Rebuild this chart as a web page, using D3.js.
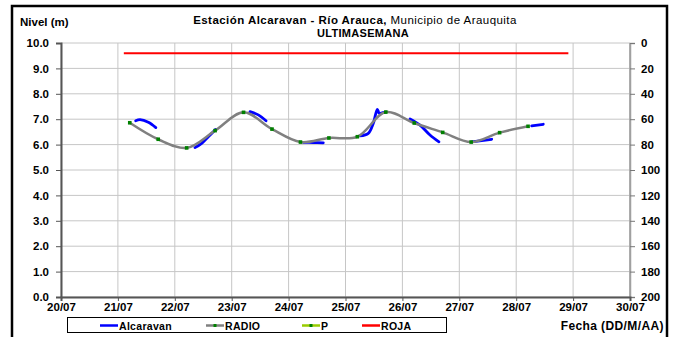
<!DOCTYPE html>
<html><head><meta charset="utf-8">
<script src="https://cdn.jsdelivr.net/npm/d3@7"></script>
<style>body{margin:0;background:#fff}svg{display:block;font-family:"Liberation Sans",Arial,sans-serif}</style>
</head><body>
<svg id="c" width="674" height="337"></svg>
<script>
// ---- data ----
const xTickLabels = ["20/07","21/07","22/07","23/07","24/07","25/07","26/07","27/07","28/07","29/07","30/07"];
const leftTicks = [0,1,2,3,4,5,6,7,8,9,10];
const rightTicks = [0,20,40,60,80,100,120,140,160,180,200];
const radioTimes = ["21/07 05:00","21/07 17:00","22/07 05:00","22/07 17:00","23/07 05:00","23/07 17:00","24/07 05:00","24/07 17:00","25/07 05:00","25/07 17:00","26/07 05:00","26/07 17:00","27/07 05:00","27/07 17:00","28/07 05:00"];
const radioValues = [6.86,6.21,5.87,6.55,7.27,6.61,6.10,6.26,6.31,7.28,6.85,6.48,6.10,6.47,6.72];
const pTimes = [];
const pValues = [];
const rojaTimes = ["21/07 02:30","28/07 22:00"];
const rojaValues = [9.6,9.6];
// Alcaravan: fragmented segments
const alcaravanSegments = [
  [["21/07 07:30",6.94],["21/07 09:20",6.98],["21/07 12:50",6.88],["21/07 16:00",6.67]],
  [["22/07 08:30",5.88],["22/07 11:20",6.05],["22/07 14:08",6.31],["22/07 17:15",6.60]],
  [["23/07 07:43",7.30],["23/07 11:13",7.17],["23/07 14:28",6.94]],
  [["24/07 06:11",6.09],["24/07 10:19",6.08],["24/07 14:38",6.07]],
  [["25/07 06:07",6.34],["25/07 09:37",6.44],["25/07 11:44",6.84],["25/07 13:25",7.39],["25/07 14:15",7.23],["25/07 15:42",7.26],["25/07 17:05",7.28]],
  [["26/07 03:13",7.01],["26/07 07:25",6.77],["26/07 11:38",6.38],["26/07 15:26",6.11]],
  [["27/07 05:14",6.11],["27/07 13:39",6.21]],
  [["28/07 06:32",6.74],["28/07 11:25",6.80]]
];

// ---- chart ----
const parse = d3.timeParse("%d/%m %H:%M");
const parseDay = d3.timeParse("%d/%m");
const svg = d3.select("#c");
const L = 61, R = 630, T = 43, B = 297;
const x = d3.scaleTime().domain([parseDay("20/07"), parseDay("30/07")]).range([L, R]);
const y = d3.scaleLinear().domain([0, 10]).range([B, T]);
const y2 = d3.scaleLinear().domain([0, 200]).range([T, B]);
const dayDates = xTickLabels.map(s => parseDay(s));
const FONT = "Liberation Sans, Arial";

// outer border
svg.append("rect").attr("x",12).attr("y",6).attr("width",655).attr("height",345)
  .attr("fill","none").attr("stroke","#000").attr("stroke-width",2.5);

// gridlines
const grid = svg.append("g").attr("stroke","#c6c6c6").attr("stroke-width",1);
leftTicks.forEach(v => grid.append("line").attr("x1",L).attr("x2",R).attr("y1",y(v)).attr("y2",y(v)));
dayDates.forEach(d => grid.append("line").attr("x1",x(d)).attr("x2",x(d)).attr("y1",T).attr("y2",B));
svg.append("line").attr("x1",R).attr("x2",R).attr("y1",T).attr("y2",B).attr("stroke","#a0a0a0").attr("stroke-width",1.5);

// left axis
const gl = svg.append("g").attr("transform",`translate(${L},0)`)
  .call(d3.axisLeft(y).tickValues(leftTicks).tickFormat(d3.format(".1f")).tickSize(5).tickPadding(7));
gl.select(".domain").attr("stroke","#555").attr("stroke-width",2);
gl.selectAll(".tick line").attr("stroke","#555");
gl.selectAll("text").attr("font-size","11.5px").attr("font-weight","bold").attr("fill","#000").attr("font-family",FONT);

// right axis
const gr = svg.append("g").attr("transform",`translate(${R},0)`)
  .call(d3.axisRight(y2).tickValues(rightTicks).tickSize(5).tickPadding(6));
gr.select(".domain").attr("stroke","#a0a0a0").attr("stroke-width",1.5);
gr.selectAll(".tick line").attr("stroke","#777");
gr.selectAll("text").attr("font-size","11.5px").attr("font-weight","bold").attr("fill","#000").attr("font-family",FONT);

// bottom axis
const gb = svg.append("g").attr("transform",`translate(0,${B})`)
  .call(d3.axisBottom(x).tickValues(dayDates).tickFormat((d,i)=>xTickLabels[i]).tickSize(4).tickPadding(2));
gb.select(".domain").attr("stroke","#555").attr("stroke-width",2);
gb.selectAll(".tick line").attr("stroke","#555");
gb.selectAll("text").attr("font-size","11.5px").attr("font-weight","bold").attr("fill","#000").attr("font-family",FONT);

// ROJA
const lineLin = d3.line().x(d=>x(d[0])).y(d=>y(d[1]));
svg.append("path").datum(rojaTimes.map((t,i)=>[parse(t),rojaValues[i]]))
  .attr("d",lineLin).attr("stroke","#ff0000").attr("stroke-width",2).attr("fill","none");

// RADIO
const radio = radioTimes.map((t,i)=>[parse(t),radioValues[i]]);
const lineSmooth = d3.line().x(d=>x(d[0])).y(d=>y(d[1])).curve(d3.curveCatmullRom.alpha(0.5));

// Alcaravan
alcaravanSegments.forEach(seg => {
  svg.append("path").datum(seg.map(d=>[parse(d[0]),d[1]]))
    .attr("d",lineSmooth).attr("stroke","#0000ff").attr("stroke-width",2.8).attr("fill","none")
    .attr("stroke-linecap","round");
});

svg.append("path").datum(radio).attr("d",lineSmooth).attr("stroke","#808080").attr("stroke-width",2.5).attr("fill","none");
svg.selectAll(".mk").data(radio).enter().append("rect").attr("class","mk")
  .attr("x",d=>x(d[0])-1.8).attr("y",d=>y(d[1])-1.8).attr("width",3.6).attr("height",3.6).attr("fill","#008000");

// P (no visible data)
svg.append("path").datum(pTimes.map((t,i)=>[parse(t),pValues[i]]))
  .attr("d",d3.line().x(d=>x(d[0])).y(d=>y2(d[1]))).attr("stroke","#99cc00").attr("fill","none");

// titles
svg.append("text").attr("x",20).attr("y",26).attr("font-size","11.5px").attr("font-weight","bold").text("Nivel (m)");
const t1 = svg.append("text").attr("x",355).attr("y",23.5).attr("text-anchor","middle").attr("font-size","11.5px").attr("letter-spacing","0.45px");
t1.append("tspan").attr("font-weight","bold").text("Estación Alcaravan - Río Arauca,");
t1.append("tspan").text(" Municipio de Arauquita");
svg.append("text").attr("x",363).attr("y",36.5).attr("text-anchor","middle").attr("font-size","11px").attr("font-weight","bold").attr("letter-spacing","0.3px").text("ULTIMASEMANA");
svg.append("text").attr("x",664).attr("y",330).attr("text-anchor","end").attr("font-size","12px").attr("font-weight","bold").attr("letter-spacing","0.4px").text("Fecha (DD/M/AA)");

// legend
svg.append("rect").attr("x",67.5).attr("y",317.5).attr("width",379).attr("height",15).attr("fill","#fff").attr("stroke","#000").attr("stroke-width",1);
const legendItems = [
  {name:"Alcaravan", color:"#0000ff", x:100, marker:false},
  {name:"RADIO", color:"#808080", x:206, marker:true},
  {name:"P", color:"#99cc00", x:302, marker:true},
  {name:"ROJA", color:"#ff0000", x:362, marker:false}
];
const ly = 325.5;
legendItems.forEach(it => {
  svg.append("line").attr("x1",it.x).attr("x2",it.x+18).attr("y1",ly).attr("y2",ly).attr("stroke",it.color).attr("stroke-width",2.5);
  if (it.marker) svg.append("rect").attr("x",it.x+7.5).attr("y",ly-1.5).attr("width",3).attr("height",3).attr("fill","#008000");
  svg.append("text").attr("x",it.x+19).attr("y",ly+4).attr("font-size","10.5px").attr("font-weight","bold").attr("letter-spacing","0.3px").text(it.name);
});
</script>
</body></html>
